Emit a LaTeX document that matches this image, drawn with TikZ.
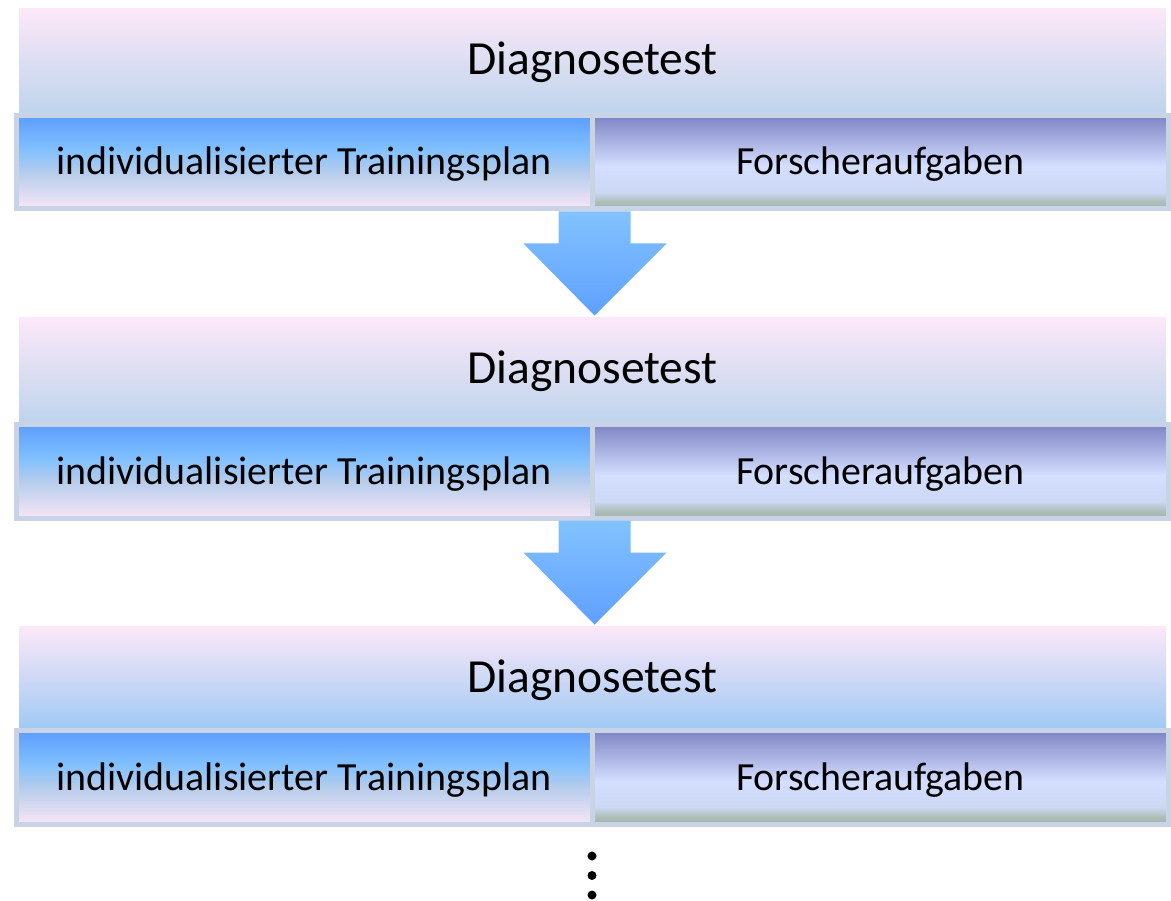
\documentclass[tikz,border=0pt]{standalone}
\usepackage{fontspec}
\setmainfont{Carlito}
\definecolor{tpink}{HTML}{FCE8F8}
\definecolor{tblueA}{HTML}{BCD4EC}
\definecolor{tblueB}{HTML}{9CC8F4}
\definecolor{ldeep}{HTML}{5C9CFF}
\definecolor{llight}{HTML}{80C0FF}
\definecolor{lpale}{HTML}{B4CCEC}
\definecolor{lpink}{HTML}{F8E6F6}
\definecolor{rtop}{HTML}{7E84C4}
\definecolor{rlight}{HTML}{D4DEFF}
\definecolor{rlight2}{HTML}{CCD8F4}
\definecolor{rgreen}{HTML}{AEBFBA}
\definecolor{rgreen2}{HTML}{A0B4A8}
\definecolor{abot}{HTML}{5FA0FF}
\definecolor{atop}{HTML}{82C2FF}
\definecolor{bordc}{HTML}{C9D3E6}
\pgfdeclareverticalshading{topshA}{100bp}{color(0bp)=(tblueA); color(25bp)=(tblueA); color(75bp)=(tpink); color(100bp)=(tpink)}
\pgfdeclareverticalshading{topshB}{100bp}{color(0bp)=(tblueB); color(25bp)=(tblueB); color(75bp)=(tpink); color(100bp)=(tpink)}
\pgfdeclareverticalshading{leftsh}{100bp}{color(0bp)=(lpink); color(25bp)=(lpink); color(45bp)=(lpale); color(57bp)=(llight); color(75bp)=(ldeep); color(100bp)=(ldeep)}
\pgfdeclareverticalshading{rightsh}{100bp}{color(0bp)=(rgreen2); color(25bp)=(rgreen2); color(29bp)=(rgreen); color(34bp)=(rlight2); color(48bp)=(rlight); color(75bp)=(rtop); color(100bp)=(rtop)}
\pgfdeclareverticalshading{arrsh}{100bp}{color(0bp)=(abot); color(25bp)=(abot); color(75bp)=(atop); color(100bp)=(atop)}
\tikzset{
  topbox/.style={shading=topshA, inner sep=0pt, minimum width=1147pt, minimum height=107pt,
     text height=25pt, text depth=0pt, font=\fontsize{47.5}{50}\selectfont},
  rowbox/.style={draw=bordc, line width=5pt, inner sep=0pt, minimum height=93.5pt,
     text height=25.5pt, text depth=0pt, font=\fontsize{39.9}{42}\selectfont},
  leftbox/.style={rowbox, shading=leftsh, minimum width=576pt},
  rightbox/.style={rowbox, shading=rightsh, minimum width=576.5pt},
  arrowfill/.style={shading=arrsh},
  dotc/.style={circle, fill=black, inner sep=0pt, minimum size=9pt}
}
\begin{document}
\begin{tikzpicture}[x=1pt,y=-1pt]
\useasboundingbox (0,0) rectangle (1171,901);
% block 1
\node[topbox] (d1) at (592.5,62.5) {Diagnosetest};
\node[leftbox] (t1) at (304,162.25) {individualisierter Trainingsplan};
\node[rightbox] (f1) at (880.25,162.25) {Forscheraufgaben};
% block 2
\node[topbox] (d2) at (592.5,371.5) {Diagnosetest};
% arrow 1
\coordinate (a1s) at (t1.south east);
\shade[arrowfill] ([xshift=-36pt]a1s) -- ([xshift=36pt]a1s) -- ([xshift=36pt,yshift=-32pt]a1s)
  -- ([xshift=72pt,yshift=-32pt]a1s) -- ([yshift=-104pt]a1s) -- ([xshift=-71pt,yshift=-32pt]a1s)
  -- ([xshift=-36pt,yshift=-32pt]a1s) -- cycle;
\node[leftbox] (t2) at (304,471.25) {individualisierter Trainingsplan};
\node[rightbox] (f2) at (880.25,471.25) {Forscheraufgaben};
% block 3
\node[topbox, shading=topshB] (d3) at (592.5,679.5) {Diagnosetest};
\coordinate (a2s) at (t2.south east);
\shade[arrowfill] ([xshift=-36pt]a2s) -- ([xshift=36pt]a2s) -- ([xshift=36pt,yshift=-32pt]a2s)
  -- ([xshift=72pt,yshift=-32pt]a2s) -- ([yshift=-104pt]a2s) -- ([xshift=-71pt,yshift=-32pt]a2s)
  -- ([xshift=-36pt,yshift=-32pt]a2s) -- cycle;
\node[leftbox] (t3) at (304,777.25) {individualisierter Trainingsplan};
\node[rightbox] (f3) at (880.25,777.25) {Forscheraufgaben};
% dots
\node[dotc] (e1) at (592,856) {};
\node[dotc] (e2) at (592,875.5) {};
\node[dotc] (e3) at (592,895) {};
\end{tikzpicture}
\end{document}
